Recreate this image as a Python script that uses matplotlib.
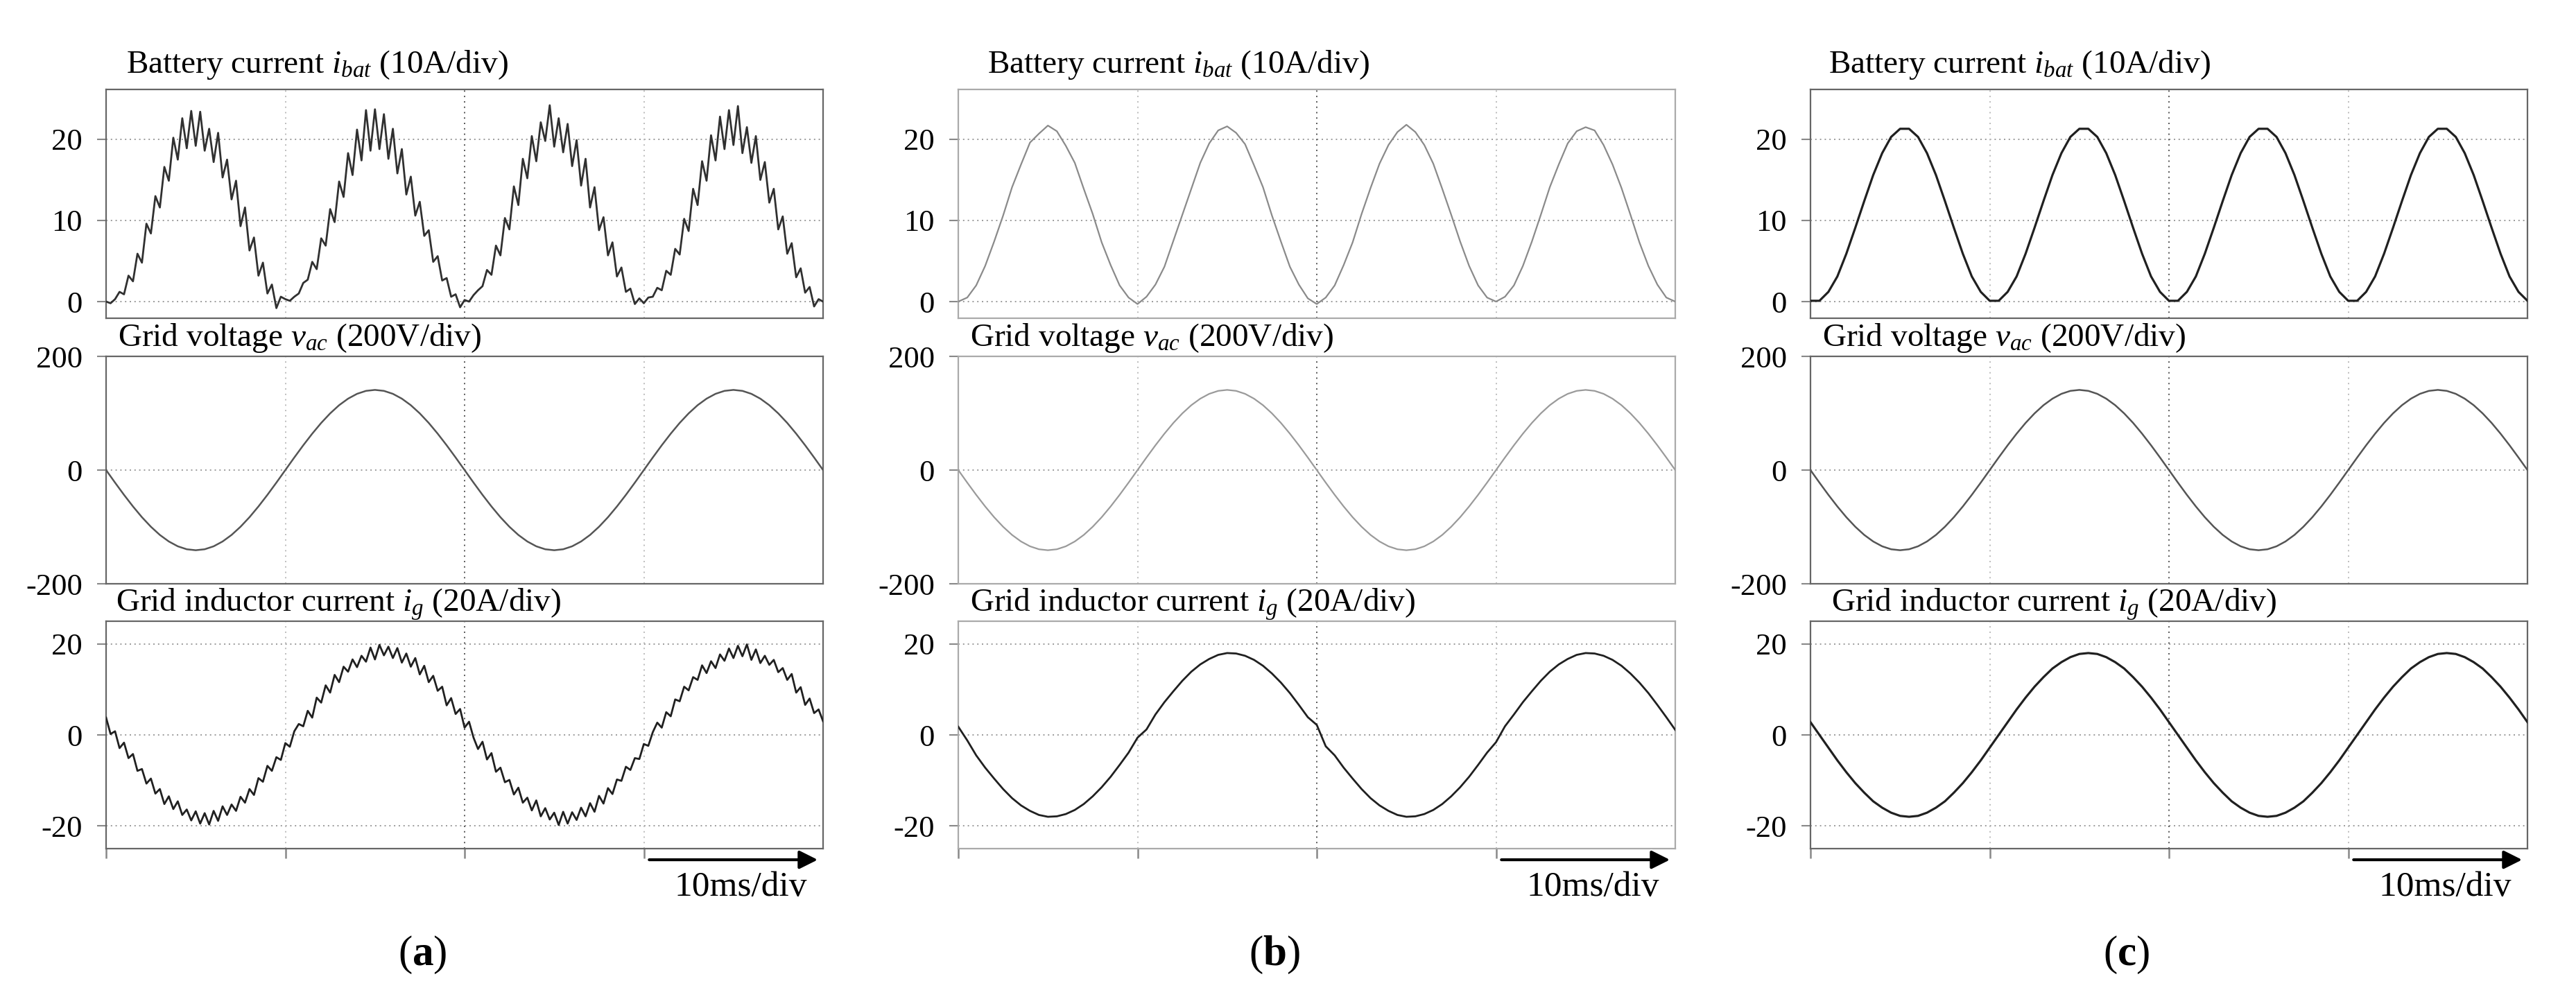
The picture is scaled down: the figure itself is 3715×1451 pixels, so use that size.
import numpy as np
import matplotlib
matplotlib.use("Agg")
import matplotlib.pyplot as plt

plt.rcParams["font.family"] = ["Liberation Serif", "DejaVu Serif"]
plt.rcParams["mathtext.fontset"] = "custom"
plt.rcParams["mathtext.rm"] = "Liberation Serif"
plt.rcParams["mathtext.it"] = "Liberation Serif:italic"
plt.rcParams["mathtext.bf"] = "Liberation Serif:bold"
plt.rcParams["axes.unicode_minus"] = False

T_END = 40.0  # ms, 4 div x 10 ms

# grid voltage, 0.5 ms samples (same in all three cases)
vac = [0.0, -22.1, -43.6, -64.0, -82.9, -99.7, -114.1, -125.6, -134.1, -139.3, -141.0,
       -139.3, -134.1, -125.6, -114.1, -99.7, -82.9, -64.0, -43.6, -22.1, 0.0,
       22.1, 43.6, 64.0, 82.9, 99.7, 114.1, 125.6, 134.1, 139.3, 141.0,
       139.3, 134.1, 125.6, 114.1, 99.7, 82.9, 64.0, 43.6, 22.1, 0.0,
       -22.1, -43.6, -64.0, -82.9, -99.7, -114.1, -125.6, -134.1, -139.3, -141.0,
       -139.3, -134.1, -125.6, -114.1, -99.7, -82.9, -64.0, -43.6, -22.1, 0.0,
       22.1, 43.6, 64.0, 82.9, 99.7, 114.1, 125.6, 134.1, 139.3, 141.0,
       139.3, 134.1, 125.6, 114.1, 99.7, 82.9, 64.0, 43.6, 22.1, 0.0]

# (a) battery current, 0.25 ms samples
ibat_a = [0.0, -0.2, 0.3, 1.2, 0.9, 3.2, 2.5, 5.9, 4.8, 9.6, 8.4, 13.0, 11.6, 16.6, 14.9, 20.2, 17.5, 22.6, 18.9, 23.5,
          19.2, 23.4, 18.6, 21.3, 17.2, 20.8, 15.3, 17.5, 12.6, 14.9, 9.3, 11.6, 6.3, 7.9, 3.2, 4.8, 1.0, 2.1, -0.8, 0.6,
          0.3, 0.1, 0.6, 1.0, 2.3, 2.7, 4.9, 4.0, 7.8, 6.9, 11.4, 9.8, 14.8, 12.9, 18.3, 15.6, 21.2, 17.4, 23.6, 18.6,
          23.7, 18.8, 23.1, 17.6, 21.3, 15.8, 18.8, 13.2, 15.4, 10.6, 12.3, 8.1, 8.8, 4.9, 5.6, 2.6, 2.9, 0.6, 0.9, -0.7,
          0.2, 0.0, 0.8, 1.4, 1.9, 3.9, 3.3, 6.9, 5.7, 10.3, 8.9, 14.2, 11.9, 17.6, 15.2, 20.4, 17.3, 22.1, 19.8, 24.2,
          19.1, 22.6, 18.4, 21.9, 16.7, 19.9, 14.3, 17.6, 11.6, 14.1, 8.8, 10.4, 5.7, 7.3, 3.1, 4.2, 1.2, 1.6, -0.3, 0.4,
          -0.2, 0.5, 0.6, 1.7, 1.4, 3.8, 3.3, 6.5, 5.8, 10.2, 8.7, 13.9, 11.9, 17.3, 14.9, 20.5, 17.4, 22.8, 18.8, 23.6,
          19.3, 24.1, 18.3, 21.5, 17.1, 20.4, 15.0, 17.2, 12.2, 13.9, 8.9, 10.5, 5.9, 7.2, 3.0, 4.1, 1.1, 1.8, -0.6, 0.3,
          0.0]

# (a) grid inductor current, 0.25 ms samples
ig_a = [3.8, 0.2, 0.8, -2.9, -1.7, -5.1, -4.2, -7.9, -7.5, -10.7, -9.6, -12.9, -11.9, -15.2, -13.5, -16.3, -14.6,
        -17.6, -16.4, -18.8, -16.8, -19.5, -17.2, -19.7, -16.7, -18.9, -15.7, -17.6, -15.3, -16.7, -13.6, -14.9,
        -11.9, -13.2, -9.5, -10.3, -6.8, -7.9, -4.9, -5.5, -1.8, -2.6, 0.8,
        2.4, 1.9, 5.3, 3.8, 8.2, 7.1, 10.9, 9.3, 13.2, 11.6, 15.0, 13.9, 16.6, 14.9, 17.4, 16.1, 19.2, 16.6, 19.8,
        17.5, 19.4, 16.9, 19.1, 15.9, 17.9, 15.0, 16.9, 13.3, 15.2, 11.6, 13.0, 9.7, 10.6, 6.5, 8.1, 4.6, 5.7, 1.6, 2.9,
        -0.6,
        -3.1, -1.5, -5.4, -4.0, -8.1, -7.2, -10.4, -9.9, -13.1, -11.6, -14.9, -13.8, -16.6, -14.4, -17.9, -16.1, -18.6,
        -17.1, -19.8, -16.9, -19.5, -17.0, -18.7, -16.0, -17.9, -15.0, -16.9, -13.4, -15.1, -11.7, -13.0, -9.8, -10.1,
        -7.0, -7.7, -5.1, -5.3, -2.0, -2.4,
        0.6,
        2.7, 1.6, 5.0, 4.1, 7.8, 7.4, 10.6, 9.8, 12.7, 12.1, 15.3, 13.6, 16.2, 14.7, 17.7, 16.3, 19.0, 16.9, 19.6,
        17.3, 19.9, 16.5, 18.8, 15.8, 17.4, 15.4, 16.5, 13.8, 14.7, 12.1, 13.4, 9.3, 10.5, 6.6, 8.0, 4.8, 5.6, 3.0]

# (b) battery current, 0.5 ms samples
ibat_b = [0.0, 0.5, 2.0, 4.4, 7.4, 10.6, 14.1, 16.9, 19.6, 20.7, 21.7, 21.0, 19.2, 17.1, 13.9, 10.8, 7.3, 4.5, 2.0, 0.5,
          -0.3, 0.6, 2.1, 4.3, 7.5, 10.7, 13.9, 17.1, 19.5, 21.1, 21.6, 20.8, 19.4, 16.8, 14.1, 10.6, 7.4, 4.3, 2.1, 0.4,
          -0.3, 0.5, 2.0, 4.5, 7.3, 10.8, 14.0, 17.0, 19.3, 20.9, 21.8, 20.9, 19.3, 17.0, 13.9, 10.7, 7.4, 4.4, 2.0, 0.5,
          0.0, 0.6, 2.0, 4.4, 7.4, 10.7, 14.1, 16.9, 19.5, 21.0, 21.5, 21.1, 19.3, 16.9, 14.0, 10.7, 7.3, 4.4, 2.1, 0.5,
          0.0]

# (b) grid inductor current, 0.5 ms samples
ig_b = [1.8, -1.2, -4.5, -7.2, -9.6, -11.9, -13.9, -15.5, -16.7, -17.6, -18.0, -17.9, -17.4, -16.5, -15.2, -13.5,
        -11.5, -9.2, -6.6, -3.9,
        -0.6, 1.2, 4.5, 7.2, 9.6, 11.9, 13.9, 15.5, 16.7, 17.6, 18.0, 17.9, 17.4, 16.5, 15.2, 13.5, 11.5, 9.2, 6.6, 3.9,
        2.2, -2.5, -4.5, -7.2, -9.6, -11.9, -13.9, -15.5, -16.7, -17.6, -18.0, -17.9, -17.4, -16.5, -15.2, -13.5,
        -11.5, -9.2, -6.6, -3.9,
        -1.6, 1.9, 4.5, 7.2, 9.6, 11.9, 13.9, 15.5, 16.7, 17.6, 18.0, 17.9, 17.4, 16.5, 15.2, 13.5, 11.5, 9.2, 6.6, 3.9,
        1.1]

# (c) battery current, 0.5 ms samples
ibat_c = [0.1, 0.1, 1.2, 3.1, 5.9, 9.1, 12.4, 15.6, 18.3, 20.3, 21.3, 21.3, 20.3, 18.3, 15.6, 12.4, 9.1, 5.9, 3.1, 1.2,
          0.1, 0.1, 1.2, 3.1, 5.9, 9.1, 12.4, 15.6, 18.3, 20.3, 21.3, 21.3, 20.3, 18.3, 15.6, 12.4, 9.1, 5.9, 3.1, 1.2,
          0.1, 0.1, 1.2, 3.1, 5.9, 9.1, 12.4, 15.6, 18.3, 20.3, 21.3, 21.3, 20.3, 18.3, 15.6, 12.4, 9.1, 5.9, 3.1, 1.2,
          0.1, 0.1, 1.2, 3.1, 5.9, 9.1, 12.4, 15.6, 18.3, 20.3, 21.3, 21.3, 20.3, 18.3, 15.6, 12.4, 9.1, 5.9, 3.1, 1.2,
          0.1]

# (c) grid inductor current, 0.5 ms samples
ig_c = [2.8, 0.0, -2.8, -5.6, -8.2, -10.6, -12.7, -14.6, -16.0, -17.1, -17.8, -18.0, -17.8, -17.1, -16.0, -14.6,
        -12.7, -10.6, -8.2, -5.6, -2.8,
        0.0, 2.8, 5.6, 8.2, 10.6, 12.7, 14.6, 16.0, 17.1, 17.8, 18.0, 17.8, 17.1, 16.0, 14.6, 12.7, 10.6, 8.2, 5.6, 2.8,
        0.0, -2.8, -5.6, -8.2, -10.6, -12.7, -14.6, -16.0, -17.1, -17.8, -18.0, -17.8, -17.1, -16.0, -14.6,
        -12.7, -10.6, -8.2, -5.6, -2.8,
        0.0, 2.8, 5.6, 8.2, 10.6, 12.7, 14.6, 16.0, 17.1, 17.8, 18.0, 17.8, 17.1, 16.0, 14.6, 12.7, 10.6, 8.2, 5.6, 2.8]

case_tags = ["a", "b", "c"]
titles = [r"Battery current $i_{bat}$ (10A/div)",
          r"Grid voltage $v_{ac}$ (200V/div)",
          r"Grid inductor current $i_g$ (20A/div)"]
ylims = [(-2.05, 26.15), (-200, 200), (-25, 25)]
yticks = [[0, 10, 20], [-200, 0, 200], [-20, 0, 20]]

W, H = 3715, 1451
AX_W = 1034
col_left = [153, 1382, 2611]
row_span = [(129, 459), (514, 842), (896, 1224)]
title_base = [105, 499, 882]
title_dx = [(29, 17, 14), (42, 17, 17), (26, 17, 30)]
frame_col = ["#666666", "#aaaaaa", "#666666"]
trace_col = [("#303030", "#555555", "#202020"),
             ("#8a8a8a", "#9a9a9a", "#202020"),
             ("#202020", "#555555", "#202020")]
trace_lw = [(2.0, 1.8, 2.0), (1.6, 1.6, 2.0), (2.3, 1.8, 2.3)]


def fx(px):
    return px / W


def fy(py):
    return 1 - py / H


fig = plt.figure(figsize=(W / 100, H / 100), dpi=100)

for c in range(3):
    series = [[ibat_a, vac, ig_a], [ibat_b, vac, ig_b], [ibat_c, vac, ig_c]][c]
    for r in range(3):
        top, bot = row_span[r]
        ax = fig.add_axes([fx(col_left[c]), fy(bot), fx(AX_W), (bot - top) / H])
        vals = series[r]
        t = np.linspace(0, T_END, len(vals))
        ax.plot(t, vals, color=trace_col[c][r], lw=trace_lw[c][r], zorder=3)
        ax.set_xlim(0, T_END)
        ax.set_ylim(*ylims[r])

        # scope grid
        for yv in yticks[r]:
            if ylims[r][0] < yv < ylims[r][1]:
                ax.axhline(yv, color="#9a9a9a", lw=1.4, ls=(0, (1, 2.5)), zorder=1)
        for xv, gc in [(10, "#bbbbbb"), (20, "#555555"), (30, "#bbbbbb")]:
            ax.axvline(xv, color=gc, lw=1.4, ls=(0, (1, 3)), zorder=1)

        for sp in ax.spines.values():
            sp.set_color(frame_col[c])
            sp.set_linewidth(1.6)

        ax.set_yticks(yticks[r])
        ax.set_yticklabels([str(v) for v in yticks[r]])
        ax.tick_params(axis="y", length=9.5, width=1.5, pad=15, labelsize=32, color="#888888")
        if r == 2:
            ax.set_xticks([0, 10, 20, 30])
            ax.set_xticklabels([])
            ax.tick_params(axis="x", length=10, width=1.8, color="#888888")
            ax.annotate("", xy=(39.7, -0.049), xytext=(30.3, -0.049),
                        xycoords=ax.get_xaxis_transform(), textcoords=ax.get_xaxis_transform(),
                        arrowprops=dict(arrowstyle="-|>", color="black", lw=3.0,
                                        mutation_scale=40, shrinkA=0, shrinkB=0),
                        annotation_clip=False)
        else:
            ax.set_xticks([])

        fig.text(fx(col_left[c] + title_dx[c][r]), fy(title_base[r]), titles[r],
                 fontsize=34, ha="left", va="baseline")

    fig.text(fx(col_left[c] + AX_W - 23), fy(1292), "10ms/div", fontsize=37,
             ha="right", va="baseline")
    fig.text(fx(col_left[c] + AX_W / 2 - 61), fy(1392), "($\\mathbf{%s}$)" % case_tags[c],
             fontsize=44, ha="center", va="baseline")

fig.savefig("out.png", dpi=100, facecolor="white")
